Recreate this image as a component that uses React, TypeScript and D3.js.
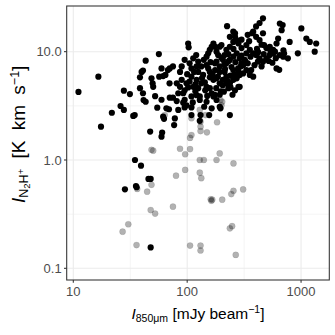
import React from "react";
import * as d3 from "d3";

const xTicks = [10, 100, 1000];
const xTickLabels = ["10", "100", "1000"];
const yTicks = [0.1, 1, 10];
const yTickLabels = ["0.1", "1.0", "10.0"];

const detX = [11.1,16.6,17.5,21.8,26.0,27.8,27.8,31.4,33.6,34.6,43.2,38.5,39.8,40.9,38.5,40.9,41.4,43.2,48.6,50.3,49.7,52.3,56.8,56.4,59.5,61.5,54.6,59.5,61.5,62.6,60.3,59.5,47.3,64.4,67.7,70.3,65.7,69.2,70.3,75,76.8,77.9,80.9,83.5,83.5,89.5,89.5,86.5,92.3,92.3,95,98.6,102,103,105,109,109,102,109,109,95,113,115,121,125,121,129,129,131,133,138,140,148,153,158,164,170,176,181,187,193,200,148,153,158,158,170,181,193,206,221,237,254,272,289,289,144,148,158,164,170,181,193,196,237,156,129,224,254,263,263,272,282,254,237,237,221,213,206,221,237,254,272,289,310,331,355,380,340,372,403,432,463,380,403,432,463,473,331,355,380,403,432,463,496,531,568,609,629,651,689,675,590,651,697,766,609,643,794,1006,937,1113,1193,1358,1318,496,531,568,320,300,340,365,390,418,450,331,300,282,254,181,193,176,133,125,121,95,75,70,81,86.5,95,98.6,113,193,210,230,240,263,282,148,164,141,109,193,213,34.8,39.3,35.5,36.0,28.4,45.7,47.8,47.8,160,175,200,230,245,265,280,300,310,240,215,125,135,118,100,105,120,180,205,222,420,520,560,450,350,300,255,710,600,700,143,167,186,212,232,262,295,325,360,410,470,540,150,175,198,228,250,118,112];
const detY = [4.25,5.88,2.03,2.73,3.15,2.90,4.36,4.06,2.55,2.6,8.26,5.8,6.5,6.7,4.6,4.13,3.58,3.45,5.68,4.74,5.1,3.88,5.88,9.5,7.0,5.95,3.04,3.6,2.51,2.4,1.79,1.64,1.83,6.1,6.76,7.0,3.0,2.94,3.76,3.76,2.1,2.42,3.5,2.9,4.13,5.5,7.3,6.5,3.38,4.13,3.6,3.2,11.9,10.96,7.8,7.0,5.88,4.68,3.06,2.6,3.06,8.68,6.5,5.48,4.6,3.97,3.58,3.86,2.6,5.1,6.1,8.4,8.99,9.65,10.4,11.1,11.9,11.1,10,9.3,11.1,11.5,7.5,7.0,6.5,5.8,5.5,5.68,5.1,5.5,5.88,5.1,5.5,5.68,6.1,4.74,4.4,4.74,4.6,4.13,3.86,3.58,3.1,3.0,2.6,2.6,2.3,17.2,15.3,14.8,13.7,12.8,11.9,12.3,13.7,11.1,10.4,9.3,8.4,7.8,8.4,9,9.65,8.68,7.5,6.76,6.1,5.88,14.3,14.8,17.1,18.4,20.3,15.3,13.7,12.8,14.8,11.5,9.65,10.4,9.65,9.3,8.68,8.09,8.68,9.3,9.65,11.9,13.2,18.2,17.6,15.8,10,9.3,8.99,8.68,7.0,6.8,12.3,16.4,9.65,13.2,12.3,11.9,10,10.8,11.1,10.4,8.4,7.8,7.8,6.76,7.5,8.1,7.3,11.5,10.8,6.5,6.76,8.1,7.3,6.76,7.3,8.1,7.3,8.4,7.3,5.1,5.1,4.74,4.4,5.1,4.74,4.0,4.27,4.6,4.7,4.4,4.74,3.45,3.0,3.1,3.86,6.5,6.5,1.0,0.887,0.575,0.56,0.536,0.668,0.668,0.156,8.0,7.8,8.8,9.5,7.2,8.0,7.0,9.2,6.3,6.0,6.9,6.5,5.7,4.3,6.2,5.3,9.3,4.6,4.9,5.1,9.9,8.2,7.9,11.6,12.5,12.9,10.6,9.6,8.7,10.3,5.2,6.2,5.9,7.6,8.2,6.1,7.3,8.1,9.0,10.6,9.5,10.0,3.9,4.0,4.3,5.3,4.0,5.0,3.4];

const ndX = [27.1,30.4,35.9,36.4,44.5,48.6,47.8,52.3,48.6,50.3,63.5,75,79.8,86.5,96,96,106,109,106,106,129,129,133,131,131,131,131,131,140,149,181,183,193,196,203,200,161,166,163,203,244,255,310,255,237,248,267,145,129,240,109];
const ndY = [0.218,0.255,0.164,0.54,0.51,0.59,0.345,0.32,1.24,1.22,2.6,0.371,0.716,1.27,0.81,1.13,1.26,1.7,1.6,0.162,1.0,0.764,0.68,2.26,2.03,1.85,0.162,0.146,1.0,1.8,1.0,2.23,1.15,3.58,3.45,3.2,0.434,0.43,0.42,0.43,0.485,0.52,0.535,0.93,0.234,0.245,0.133,2.6,2.9,5.4,2.43];

const FONT = "'Liberation Sans', Arial, Helvetica, sans-serif";

export default function App() {
  const W = 335, H = 335;
  const left = 66.7, right = 329.3, top = 6, bottom = 280;
  const x = d3.scaleLog().domain([8.75, 1770]).range([left, right]);
  const y = d3.scaleLog().domain([26.4, 0.078]).range([top, bottom]);
  const xMinor = [Math.pow(10, 1.5), Math.pow(10, 2.5)];
  const yMinor = [Math.pow(10, -0.5), Math.pow(10, 0.5)];
  const det = detX.map((v, i) => [v, detY[i]]);
  const nd = ndX.map((v, i) => [v, ndY[i]]);
  return (
    <svg width={W} height={H} style={{ position: "absolute", left: 0, top: 0, background: "#fff" }} fontFamily={FONT}>
      <rect x={0} y={0} width={W} height={H} fill="#fff" />
      {xMinor.map((t, i) => (
        <line key={"xm" + i} x1={x(t)} x2={x(t)} y1={top} y2={bottom} stroke="#ebebeb" strokeWidth={0.55} />
      ))}
      {yMinor.map((t, i) => (
        <line key={"ym" + i} x1={left} x2={right} y1={y(t)} y2={y(t)} stroke="#ebebeb" strokeWidth={0.55} />
      ))}
      {xTicks.map((t, i) => (
        <line key={"xg" + i} x1={x(t)} x2={x(t)} y1={top} y2={bottom} stroke="#ebebeb" strokeWidth={1.07} />
      ))}
      {yTicks.map((t, i) => (
        <line key={"yg" + i} x1={left} x2={right} y1={y(t)} y2={y(t)} stroke="#ebebeb" strokeWidth={1.07} />
      ))}
      {det.map((d, i) => (
        <circle key={"d" + i} cx={x(d[0])} cy={y(d[1])} r={3.1} fill="#000" />
      ))}
      {nd.map((d, i) => (
        <circle key={"n" + i} cx={x(d[0])} cy={y(d[1])} r={3.1} fill="#000" fillOpacity={0.3} stroke="#000" strokeOpacity={0.15} strokeWidth={0.5} />
      ))}
      <rect x={left} y={top} width={right - left} height={bottom - top} fill="none" stroke="#333333" strokeWidth={1.07} />
      {xTicks.map((t, i) => (
        <g key={"xt" + i}>
          <line x1={x(t)} x2={x(t)} y1={bottom} y2={bottom + 2.7} stroke="#333333" strokeWidth={1.07} />
          <text x={x(t)} y={bottom + 16} textAnchor="middle" fontSize={13} fill="#4d4d4d">{xTickLabels[i]}</text>
        </g>
      ))}
      {yTicks.map((t, i) => (
        <g key={"yt" + i}>
          <line x1={left - 2.7} x2={left} y1={y(t)} y2={y(t)} stroke="#333333" strokeWidth={1.07} />
          <text x={left - 5} y={y(t) + 4.6} textAnchor="end" fontSize={13} fill="#4d4d4d">{yTickLabels[i]}</text>
        </g>
      ))}
      <text x={(left + right) / 2} y={319} textAnchor="middle" fontSize={15.5} fill="#000">
        <tspan fontStyle="italic">I</tspan>
        <tspan fontSize={10.5} dy={3}>850μm</tspan>
        <tspan dy={-3}> [mJy beam</tspan>
        <tspan fontSize={10.5} dy={-6}>−1</tspan>
        <tspan dy={6}>]</tspan>
      </text>
      <text transform="translate(25,203) rotate(-90)" textAnchor="start" fontSize={19} fill="#000" wordSpacing={5}>
        <tspan fontStyle="italic">I</tspan>
        <tspan fontSize={12.5} dy={3}>N</tspan>
        <tspan fontSize={9.5} dy={2}>2</tspan>
        <tspan fontSize={12.5} dy={-2}>H</tspan>
        <tspan fontSize={9.5} dy={-4}>+</tspan>
        <tspan dy={1}> [K km s</tspan>
        <tspan fontSize={12.5} dy={-6}>−1</tspan>
        <tspan dy={6}>]</tspan>
      </text>
    </svg>
  );
}
